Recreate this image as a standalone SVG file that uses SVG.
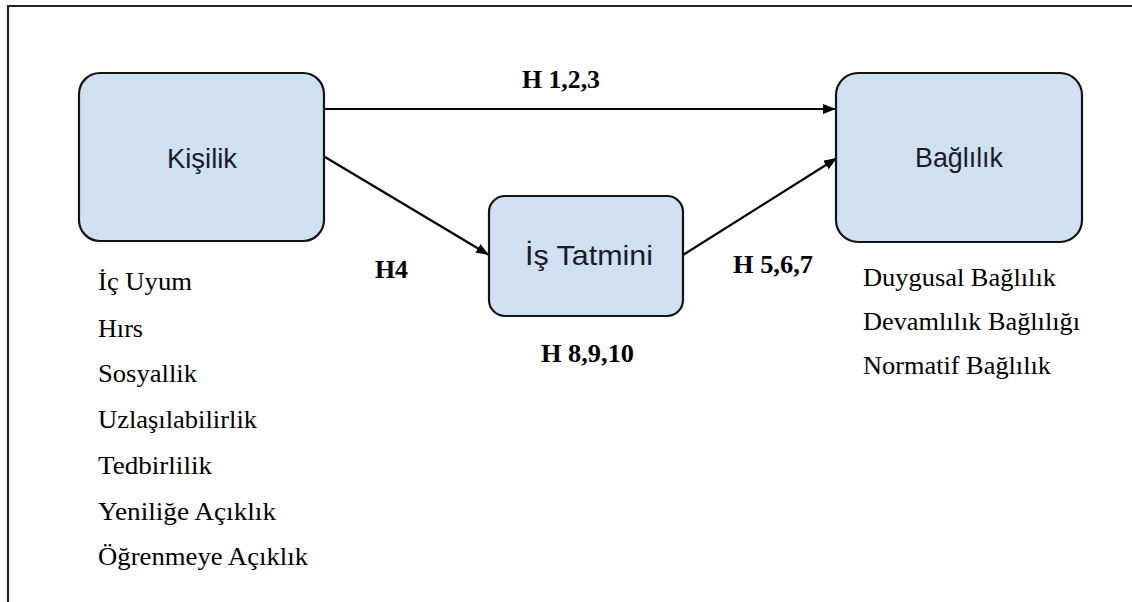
<svg xmlns="http://www.w3.org/2000/svg" width="1132" height="602" viewBox="0 0 1132 602">
<style>
.box{fill:#cfe0f1;stroke:#141414;stroke-width:2.2}
.lbl{font-family:"Liberation Sans",Arial,sans-serif;font-size:28px;fill:#1a1a2a;text-anchor:middle}
.h{font-family:"Liberation Serif","Times New Roman",serif;font-size:25px;font-weight:bold;fill:#000}
.item{font-family:"Liberation Serif","Times New Roman",serif;font-size:26px;fill:#000}
.edge{stroke:#000;stroke-width:2.2;fill:none}
</style>
<defs>
<marker id="arr" markerUnits="userSpaceOnUse" markerWidth="14" markerHeight="11" refX="13" refY="5" orient="auto">
<path d="M0,0 L13,5 L0,10 z" fill="#000"/>
</marker>
</defs>
<rect width="1132" height="602" fill="#fff"/>
<g id="frame" stroke="#222" stroke-width="2.2" fill="none">
<path d="M8,602 V6 H1132"/>
</g>
<g id="connectors">
<line class="edge" x1="325" y1="109" x2="836" y2="109" marker-end="url(#arr)"/>
<line class="edge" x1="325" y1="157" x2="489" y2="255" marker-end="url(#arr)"/>
<line class="edge" x1="683" y1="255" x2="837" y2="158" marker-end="url(#arr)"/>
</g>
<g id="kisilik">
<rect class="box" x="79" y="73" width="245" height="168" rx="21" ry="21"/>
<text class="lbl" x="202" y="168" textLength="70" lengthAdjust="spacingAndGlyphs">Kişilik</text>
</g>
<g id="is-tatmini">
<rect class="box" x="489" y="196" width="194" height="120" rx="16" ry="16"/>
<text class="lbl" x="589" y="265" textLength="128" lengthAdjust="spacingAndGlyphs">İş Tatmini</text>
</g>
<g id="baglilik">
<rect class="box" x="836" y="73" width="246" height="169" rx="22" ry="22"/>
<text class="lbl" x="959" y="167" textLength="88" lengthAdjust="spacingAndGlyphs">Bağlılık</text>
</g>
<g id="hypotheses">
<text class="h" x="522" y="88" textLength="78" lengthAdjust="spacingAndGlyphs">H 1,2,3</text>
<text class="h" x="375" y="278" textLength="33" lengthAdjust="spacingAndGlyphs">H4</text>
<text class="h" x="733" y="273" textLength="80" lengthAdjust="spacingAndGlyphs">H 5,6,7</text>
<text class="h" x="541" y="362" textLength="93" lengthAdjust="spacingAndGlyphs">H 8,9,10</text>
</g>
<g id="kisilik-items">
<text class="item" x="98" y="290" textLength="94" lengthAdjust="spacingAndGlyphs">İç Uyum</text>
<text class="item" x="98" y="337" textLength="45" lengthAdjust="spacingAndGlyphs">Hırs</text>
<text class="item" x="98" y="382" textLength="99" lengthAdjust="spacingAndGlyphs">Sosyallik</text>
<text class="item" x="98" y="428" textLength="159" lengthAdjust="spacingAndGlyphs">Uzlaşılabilirlik</text>
<text class="item" x="98" y="474" textLength="114" lengthAdjust="spacingAndGlyphs">Tedbirlilik</text>
<text class="item" x="98" y="520" textLength="178" lengthAdjust="spacingAndGlyphs">Yeniliğe Açıklık</text>
<text class="item" x="98" y="565" textLength="210" lengthAdjust="spacingAndGlyphs">Öğrenmeye Açıklık</text>
</g>
<g id="baglilik-items">
<text class="item" x="863" y="286" textLength="193" lengthAdjust="spacingAndGlyphs">Duygusal Bağlılık</text>
<text class="item" x="863" y="330" textLength="217" lengthAdjust="spacingAndGlyphs">Devamlılık Bağlılığı</text>
<text class="item" x="863" y="374" textLength="188" lengthAdjust="spacingAndGlyphs">Normatif Bağlılık</text>
</g>
</svg>
